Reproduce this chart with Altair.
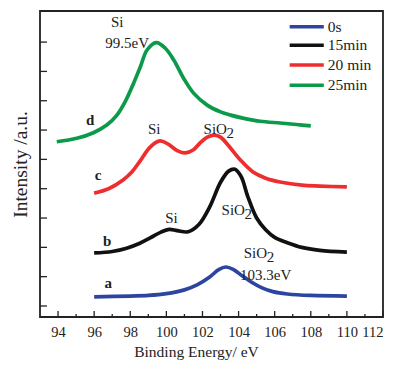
import altair as alt
import pandas as pd

# ---- data ----
series_names = ["0s", "15min", "20 min", "25min"]
series_colors = ["#2D45A0", "#111111", "#EE2E2E", "#0B9A4A"]

x_0s = [96, 98, 99, 100, 101, 101.7, 102.4, 102.9, 103.3, 103.7, 104.2, 104.7, 105.3, 105.9, 106.7, 108, 110]
y_0s = [0.31, 0.34, 0.36, 0.42, 0.55, 0.72, 0.99, 1.24, 1.33, 1.25, 1.03, 0.82, 0.62, 0.49, 0.41, 0.36, 0.34]

x_15 = [96, 97, 97.8, 98.5, 99.1, 99.7, 100.15, 100.6, 101.2, 101.8, 102.4, 103.0, 103.45, 103.8, 104.15, 104.5, 105.0, 105.5, 106.0, 106.7, 107.5, 108.5, 110]
y_15 = [1.81, 1.86, 1.97, 2.13, 2.32, 2.52, 2.61, 2.57, 2.53, 2.78, 3.38, 4.22, 4.6, 4.66, 4.4, 3.75, 3.0, 2.6, 2.34, 2.16, 2.0, 1.9, 1.84]

x_20 = [96, 96.8, 97.6, 98.1, 98.55, 99.1, 99.65, 100.1, 100.6, 101.05, 101.5, 101.9, 102.3, 102.67, 103.0, 103.4, 104.1, 104.8, 105.5, 106.3, 107.5, 108.5, 110]
y_20 = [3.85, 4.0, 4.3, 4.58, 4.95, 5.42, 5.63, 5.52, 5.3, 5.22, 5.33, 5.58, 5.77, 5.83, 5.76, 5.5, 4.98, 4.57, 4.36, 4.23, 4.12, 4.09, 4.06]

x_25 = [93.93, 95.04, 95.96, 96.7, 97.26, 97.72, 98.18, 98.56, 98.93, 99.44, 99.94, 100.41, 100.96, 101.52, 102.26, 103.0, 103.56, 104.3, 105.2, 106.3, 107.2, 108]
y_25 = [5.6, 5.72, 5.91, 6.17, 6.51, 6.97, 7.59, 8.16, 8.73, 8.98, 8.79, 8.39, 7.76, 7.25, 6.85, 6.62, 6.51, 6.4, 6.3, 6.24, 6.19, 6.14]

x_major_ticks = [94, 96, 98, 100, 102, 104, 106, 108, 110, 112]
x_minor_ticks = [95, 97, 99, 101, 103, 105, 107, 109, 111]
y_ticks = [0, 1, 2, 3, 4, 5, 6, 7, 8, 9]

# annotations
plain_text = ["Si", "99.5eV", "Si", "Si", "103.3eV"]
plain_x = [97.28, 97.83, 99.33, 100.28, 105.5]
plain_y = [9.68, 8.97, 6.03, 3.0, 1.06]

letter_text = ["d", "c", "b", "a"]
letter_x = [95.78, 96.22, 96.72, 96.78]
letter_y = [6.34, 4.47, 2.22, 0.78]

sio_x = [102.06, 103.06, 104.28]
sio_y = [6.03, 3.27, 1.81]

legend_y = [9.52, 8.89, 8.22, 7.53]
legend_x0 = 106.83
legend_x1 = 108.72
legend_tx = 108.94

# ---- tables ----
rows = []
for name, xv_list, yv_list in [("0s", x_0s, y_0s), ("15min", x_15, y_15), ("20 min", x_20, y_20), ("25min", x_25, y_25)]:
    for xv, yv in zip(xv_list, yv_list):
        rows.append({"series": name, "x": xv, "y": yv})
df = pd.DataFrame(rows)

FONT = "Liberation Serif"
xs = alt.Scale(domain=[93, 112], nice=False, zero=False)
ys = alt.Scale(domain=[-0.375, 10.06], nice=False, zero=False)
color = alt.Color("series:N", scale=alt.Scale(domain=series_names, range=series_colors), legend=None)

x_axis = alt.Axis(
    values=x_major_ticks, ticks=False, domain=False, grid=False,
    labelFont=FONT, labelFontSize=14.5, labelColor="#222", labelPadding=8,
    title="Binding Energy/ eV", titleFont=FONT, titleFontSize=15.5, titleFontWeight="normal",
    titleColor="#222", titleX=156, titleY=34, titleBaseline="middle", titleAlign="center")
y_axis = alt.Axis(
    labels=False, ticks=False, domain=False, grid=False,
    title="Intensity /a.u.", titleFont=FONT, titleFontSize=19.5, titleFontWeight="normal",
    titleColor="#222", titlePadding=10)


def X(field):
    return alt.X(field, scale=xs, axis=x_axis, title="Binding Energy/ eV")


def Y(field):
    return alt.Y(field, scale=ys, axis=y_axis, title="Intensity /a.u.")


lines = alt.Chart(df).mark_line(strokeWidth=3.7, interpolate="catmull-rom").encode(
    x=X("x:Q"), y=Y("y:Q"), color=color, order="x:Q", detail="series:N")

major = alt.Chart(pd.DataFrame({"t": x_major_ticks})).mark_rule(color="#222", strokeWidth=1.3).encode(
    x=X("t:Q"), y=alt.value(306), y2=alt.value(300))
minor = alt.Chart(pd.DataFrame({"t": x_minor_ticks})).mark_rule(color="#222", strokeWidth=1.3).encode(
    x=X("t:Q"), y=alt.value(306), y2=alt.value(303))
yt = alt.Chart(pd.DataFrame({"t": y_ticks})).mark_rule(color="#222", strokeWidth=1.3).encode(
    y=Y("t:Q"), x=alt.value(0), x2=alt.value(7))

plain = alt.Chart(pd.DataFrame({"t": plain_text, "x": plain_x, "y": plain_y})).mark_text(
    font=FONT, fontSize=15, color="#222", baseline="middle", align="center").encode(
    x=X("x:Q"), y=Y("y:Q"), text="t:N")

letters = alt.Chart(pd.DataFrame({"t": letter_text, "x": letter_x, "y": letter_y})).mark_text(
    font=FONT, fontSize=15, fontWeight="bold", color="#222", baseline="middle", align="center").encode(
    x=X("x:Q"), y=Y("y:Q"), text="t:N")

sio_df = pd.DataFrame({"x": sio_x, "y": sio_y})
sio = alt.Chart(sio_df).mark_text(
    font=FONT, fontSize=15, color="#222", baseline="middle", align="left").encode(
    x=X("x:Q"), y=Y("y:Q"), text=alt.value("SiO"))
sub2 = alt.Chart(sio_df).mark_text(
    font=FONT, fontSize=15, color="#222", baseline="middle", align="left", dx=23, dy=4).encode(
    x=X("x:Q"), y=Y("y:Q"), text=alt.value("2"))

leg_df = pd.DataFrame({"series": series_names, "y": legend_y,
                       "x0": [legend_x0] * 4, "x1": [legend_x1] * 4, "tx": [legend_tx] * 4})
leg_lines = alt.Chart(leg_df).mark_rule(strokeWidth=3.5).encode(
    x=X("x0:Q"), x2="x1:Q", y=Y("y:Q"), color=color)
leg_text = alt.Chart(leg_df).mark_text(
    font=FONT, fontSize=15.5, color="#222", baseline="middle", align="left").encode(
    x=X("tx:Q"), y=Y("y:Q"), text="series:N")

chart = alt.layer(lines, major, minor, yt, plain, letters, sio, sub2, leg_lines, leg_text).properties(
    width=343, height=306,
    autosize=alt.AutoSizeParams(type="none"),
    padding={"left": 32, "top": 3, "right": 4, "bottom": 44},
    background="white",
).configure_view(stroke="#222", strokeWidth=1.8)

chart.save("out.html", embed_options={"renderer": "svg", "actions": False})
